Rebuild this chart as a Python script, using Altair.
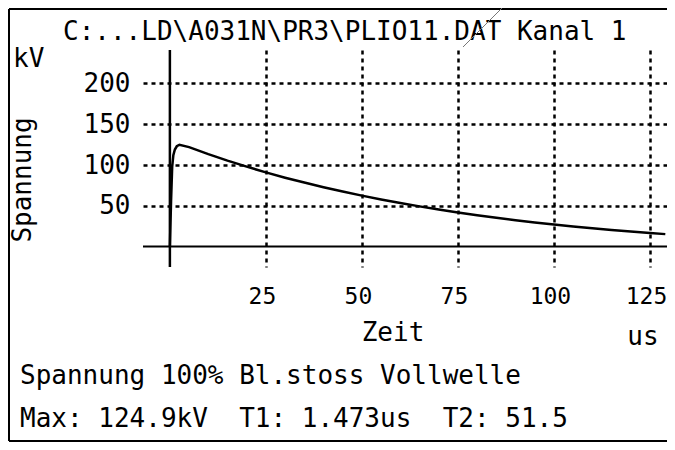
import altair as alt
import pandas as pd

# ---- data ----
time_us = [0.0, 0.3, 0.6, 0.9, 1.3, 1.8, 2.5, 5, 10, 15, 20, 25, 30, 35, 40, 45, 50,
           55, 60, 65, 70, 75, 80, 85, 90, 95, 100, 105, 110, 115, 120, 125, 129]
voltage_kv = [0, 55, 98, 112, 119, 123, 124.9, 122, 113.4, 105.4, 98, 91, 84.5, 78.5, 72.8, 67.5, 62.5,
              57.8, 53.4, 49.3, 45.4, 41.8, 38.4, 35.3, 32.3, 29.6, 27.0, 24.7, 22.5, 20.4, 18.5, 16.7, 15.3]
x_ticks = [25, 50, 75, 100, 125]
y_ticks = [50, 100, 150, 200]
zero_line = [0]

title_text = "C:...LD\\A031N\\PR3\\PLIO11.DAT Kanal 1"
y_unit = "kV"
y_title = "Spannung"
x_title = "Zeit"
x_unit = "us"
caption1 = "Spannung 100% Bl.stoss Vollwelle"
caption2 = "Max: 124.9kV\u00a0\u00a0T1: 1.473us\u00a0\u00a0T2: 51.5"

FONT = "DejaVu Sans Mono"
FS = 26

df = pd.DataFrame({"t": time_us, "u": voltage_kv})
zdf = pd.DataFrame({"z": zero_line})

xs = alt.Scale(domain=[-7, 129.44], nice=False, zero=False)
ys = alt.Scale(domain=[-25, 241], nice=False, zero=False)

x_axis = alt.Axis(values=x_ticks, grid=True, gridDash=[4, 4], gridColor="black", gridWidth=2.5,
                  gridOpacity=1, domain=False, ticks=False, tickSize=0, labelFont=FONT,
                  labelFontSize=23, labelColor="black", labelPadding=36, labelBaseline="alphabetic",
                  labelOffset=-4, labelFlush=False, labelOverlap=False, title=None)
y_axis = alt.Axis(values=y_ticks, grid=True, gridDash=[4, 4], gridColor="black", gridWidth=2.5,
                  gridOpacity=1, domain=False, ticks=False, tickSize=0, labelFont=FONT,
                  labelFontSize=FS, labelColor="black", labelPadding=13, labelBaseline="middle",
                  labelFlush=False, labelOverlap=False, title=None)

curve = alt.Chart(df).mark_line(color="black", strokeWidth=2.5).encode(
    x=alt.X("t:Q", scale=xs, axis=x_axis),
    y=alt.Y("u:Q", scale=ys, axis=y_axis),
)

zero_h = alt.Chart(zdf).mark_rule(color="black", strokeWidth=2).encode(
    y=alt.Y("z:Q", scale=ys)
)
zero_v = alt.Chart(zdf).mark_rule(color="black", strokeWidth=2.5).encode(
    x=alt.X("z:Q", scale=xs)
)


def label(txt, x, y, align="left", angle=0, size=FS):
    d = pd.DataFrame({"txt": [txt]})
    kw = dict(font=FONT, fontSize=size, align=align, baseline="alphabetic", color="black")
    if angle:
        kw["angle"] = angle
    return alt.Chart(d).mark_text(**kw).encode(
        x=alt.value(x), y=alt.value(y), text="txt:N"
    )


texts = [
    label(title_text, -80, -10),
    label(y_unit, -130, 17),
    label(y_title, -112, 130, align="center", angle=270),
    label(x_title, 250, 291, align="center"),
    label(x_unit, 500, 295, align="center"),
    label(caption1, -123, 334),
    label(caption2, -123, 377),
]

one = pd.DataFrame({"k": [0]})
frame_left = alt.Chart(one).mark_rule(color="black", strokeWidth=2).encode(
    x=alt.value(-134), y=alt.value(-41), y2=alt.value(391))
frame_top = alt.Chart(one).mark_rule(color="black", strokeWidth=2).encode(
    x=alt.value(-134), x2=alt.value(530), y=alt.value(-41))
frame_bottom = alt.Chart(one).mark_rule(color="black", strokeWidth=2).encode(
    x=alt.value(-134), x2=alt.value(530), y=alt.value(391))
scribble = alt.Chart(one).mark_rule(color="#777777", strokeWidth=1).encode(
    x=alt.value(367), x2=alt.value(320), y=alt.value(-50), y2=alt.value(-3))

chart = alt.layer(
    curve, zero_h, zero_v, *texts, frame_left, frame_top, frame_bottom, scribble
).properties(
    width=524, height=217,
    padding={"left": 135, "top": 42, "right": 0, "bottom": 175},
    autosize=alt.AutoSizeParams(type="none"),
    background="white",
).configure_view(stroke=None)

chart.save("out.html", embed_options={"renderer": "svg", "actions": False})
